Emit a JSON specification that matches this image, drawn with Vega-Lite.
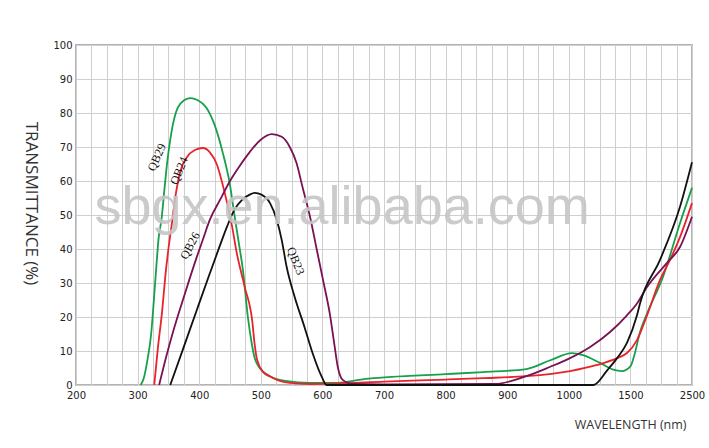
{
  "$schema": "https://vega.github.io/schema/vega-lite/v6.json",
  "width": 616,
  "height": 340,
  "autosize": "none",
  "padding": {"left": 76, "top": 45, "right": 17, "bottom": 63},
  "background": "white",
  "config": {
    "view": {"stroke": "#b3b3b3", "strokeWidth": 2},
    "axis": {
      "gridColor": "#cfcfcf",
      "gridWidth": 1,
      "gridOpacity": 1,
      "ticks": false,
      "domain": false,
      "labelFont": "DejaVu Sans",
      "labelFontSize": 10,
      "labelColor": "#222222",
      "titleFont": "Open Sans",
      "titleFontWeight": "normal",
      "titleColor": "#333333"
    }
  },
  "datasets": {
    "curves": [
      {"series": "QB29", "nm": 305, "t": 0},
      {"series": "QB29", "nm": 310, "t": 2},
      {"series": "QB29", "nm": 316, "t": 7.4},
      {"series": "QB29", "nm": 322, "t": 15},
      {"series": "QB29", "nm": 326, "t": 24},
      {"series": "QB29", "nm": 330, "t": 33.8},
      {"series": "QB29", "nm": 334, "t": 43},
      {"series": "QB29", "nm": 339, "t": 49},
      {"series": "QB29", "nm": 343, "t": 56.5},
      {"series": "QB29", "nm": 347, "t": 63.8},
      {"series": "QB29", "nm": 355, "t": 74.4},
      {"series": "QB29", "nm": 365, "t": 81.5},
      {"series": "QB29", "nm": 376, "t": 83.8},
      {"series": "QB29", "nm": 386, "t": 84.4},
      {"series": "QB29", "nm": 397, "t": 83.8},
      {"series": "QB29", "nm": 412, "t": 81.5},
      {"series": "QB29", "nm": 425, "t": 76.5},
      {"series": "QB29", "nm": 438, "t": 68.5},
      {"series": "QB29", "nm": 450, "t": 58.8},
      {"series": "QB29", "nm": 458, "t": 49},
      {"series": "QB29", "nm": 465, "t": 41},
      {"series": "QB29", "nm": 471, "t": 33.8},
      {"series": "QB29", "nm": 479, "t": 20},
      {"series": "QB29", "nm": 485, "t": 12.5},
      {"series": "QB29", "nm": 490, "t": 8},
      {"series": "QB29", "nm": 498, "t": 5},
      {"series": "QB29", "nm": 515, "t": 2.6},
      {"series": "QB29", "nm": 540, "t": 1.2},
      {"series": "QB29", "nm": 580, "t": 0.6},
      {"series": "QB29", "nm": 620, "t": 0.6},
      {"series": "QB29", "nm": 650, "t": 1.2},
      {"series": "QB29", "nm": 670, "t": 1.8},
      {"series": "QB29", "nm": 712, "t": 2.4},
      {"series": "QB29", "nm": 800, "t": 3.2},
      {"series": "QB29", "nm": 861, "t": 3.8},
      {"series": "QB29", "nm": 931, "t": 4.7},
      {"series": "QB29", "nm": 969, "t": 7.2},
      {"series": "QB29", "nm": 1025, "t": 9.4},
      {"series": "QB29", "nm": 1115, "t": 8.8},
      {"series": "QB29", "nm": 1253, "t": 6.5},
      {"series": "QB29", "nm": 1360, "t": 4.5},
      {"series": "QB29", "nm": 1430, "t": 4.1},
      {"series": "QB29", "nm": 1500, "t": 5.5},
      {"series": "QB29", "nm": 1560, "t": 8.5},
      {"series": "QB29", "nm": 1655, "t": 15.5},
      {"series": "QB29", "nm": 1770, "t": 21},
      {"series": "QB29", "nm": 2029, "t": 31.8},
      {"series": "QB29", "nm": 2305, "t": 47.6},
      {"series": "QB29", "nm": 2500, "t": 58},
      {"series": "QB24", "nm": 327, "t": 0},
      {"series": "QB24", "nm": 333, "t": 11},
      {"series": "QB24", "nm": 340, "t": 22},
      {"series": "QB24", "nm": 345, "t": 32},
      {"series": "QB24", "nm": 350, "t": 40},
      {"series": "QB24", "nm": 356, "t": 48},
      {"series": "QB24", "nm": 361, "t": 55},
      {"series": "QB24", "nm": 369, "t": 62.6},
      {"series": "QB24", "nm": 380, "t": 67},
      {"series": "QB24", "nm": 393, "t": 69.1},
      {"series": "QB24", "nm": 406, "t": 69.7},
      {"series": "QB24", "nm": 417, "t": 68.5},
      {"series": "QB24", "nm": 429, "t": 64.7},
      {"series": "QB24", "nm": 437, "t": 59.7},
      {"series": "QB24", "nm": 445, "t": 53.8},
      {"series": "QB24", "nm": 453, "t": 47},
      {"series": "QB24", "nm": 461, "t": 38.8},
      {"series": "QB24", "nm": 474, "t": 28.8},
      {"series": "QB24", "nm": 486, "t": 19},
      {"series": "QB24", "nm": 490, "t": 12},
      {"series": "QB24", "nm": 494, "t": 7.4},
      {"series": "QB24", "nm": 504, "t": 3.8},
      {"series": "QB24", "nm": 515, "t": 2.5},
      {"series": "QB24", "nm": 547, "t": 0.6},
      {"series": "QB24", "nm": 580, "t": 0.3},
      {"series": "QB24", "nm": 620, "t": 0.4},
      {"series": "QB24", "nm": 700, "t": 1},
      {"series": "QB24", "nm": 800, "t": 1.6},
      {"series": "QB24", "nm": 861, "t": 2},
      {"series": "QB24", "nm": 931, "t": 2.6},
      {"series": "QB24", "nm": 1010, "t": 4.1},
      {"series": "QB24", "nm": 1229, "t": 5.9},
      {"series": "QB24", "nm": 1392, "t": 7.9},
      {"series": "QB24", "nm": 1472, "t": 9.4},
      {"series": "QB24", "nm": 1607, "t": 13.2},
      {"series": "QB24", "nm": 1770, "t": 20.5},
      {"series": "QB24", "nm": 1981, "t": 30.9},
      {"series": "QB24", "nm": 2143, "t": 36.8},
      {"series": "QB24", "nm": 2305, "t": 43.5},
      {"series": "QB24", "nm": 2500, "t": 53.5},
      {"series": "QB26", "nm": 335, "t": 0},
      {"series": "QB26", "nm": 346, "t": 8},
      {"series": "QB26", "nm": 357, "t": 15.3},
      {"series": "QB26", "nm": 377, "t": 27},
      {"series": "QB26", "nm": 396, "t": 37.6},
      {"series": "QB26", "nm": 406, "t": 42.8},
      {"series": "QB26", "nm": 417, "t": 48.5},
      {"series": "QB26", "nm": 434, "t": 54.5},
      {"series": "QB26", "nm": 450, "t": 60},
      {"series": "QB26", "nm": 466, "t": 64.5},
      {"series": "QB26", "nm": 482, "t": 68.5},
      {"series": "QB26", "nm": 499, "t": 72},
      {"series": "QB26", "nm": 518, "t": 73.8},
      {"series": "QB26", "nm": 534, "t": 73},
      {"series": "QB26", "nm": 547, "t": 70},
      {"series": "QB26", "nm": 558, "t": 65.3},
      {"series": "QB26", "nm": 568, "t": 58},
      {"series": "QB26", "nm": 580, "t": 49.4},
      {"series": "QB26", "nm": 591, "t": 39.7},
      {"series": "QB26", "nm": 601, "t": 30.9},
      {"series": "QB26", "nm": 612, "t": 21},
      {"series": "QB26", "nm": 620, "t": 11.2},
      {"series": "QB26", "nm": 625, "t": 5.3},
      {"series": "QB26", "nm": 633, "t": 1.5},
      {"series": "QB26", "nm": 650, "t": 0.3},
      {"series": "QB26", "nm": 700, "t": 0.2},
      {"series": "QB26", "nm": 880, "t": 0.3},
      {"series": "QB26", "nm": 931, "t": 2.6},
      {"series": "QB26", "nm": 969, "t": 5.3},
      {"series": "QB26", "nm": 1010, "t": 7.9},
      {"series": "QB26", "nm": 1173, "t": 11.2},
      {"series": "QB26", "nm": 1335, "t": 15.6},
      {"series": "QB26", "nm": 1472, "t": 20.5},
      {"series": "QB26", "nm": 1607, "t": 24},
      {"series": "QB26", "nm": 1770, "t": 28.8},
      {"series": "QB26", "nm": 2094, "t": 35.9},
      {"series": "QB26", "nm": 2305, "t": 40.6},
      {"series": "QB26", "nm": 2500, "t": 49.5},
      {"series": "QB23", "nm": 353, "t": 0},
      {"series": "QB23", "nm": 374, "t": 10.7},
      {"series": "QB23", "nm": 396, "t": 22},
      {"series": "QB23", "nm": 417, "t": 32.7},
      {"series": "QB23", "nm": 434, "t": 41.2},
      {"series": "QB23", "nm": 445, "t": 46.5},
      {"series": "QB23", "nm": 457, "t": 51.5},
      {"series": "QB23", "nm": 470, "t": 54.5},
      {"series": "QB23", "nm": 482, "t": 56},
      {"series": "QB23", "nm": 490, "t": 56.5},
      {"series": "QB23", "nm": 501, "t": 56},
      {"series": "QB23", "nm": 515, "t": 53.5},
      {"series": "QB23", "nm": 526, "t": 48.5},
      {"series": "QB23", "nm": 534, "t": 42.6},
      {"series": "QB23", "nm": 542, "t": 34.7},
      {"series": "QB23", "nm": 555, "t": 25.9},
      {"series": "QB23", "nm": 571, "t": 17},
      {"series": "QB23", "nm": 584, "t": 9.4},
      {"series": "QB23", "nm": 599, "t": 2.4},
      {"series": "QB23", "nm": 607, "t": 0},
      {"series": "QB23", "nm": 1200, "t": 0},
      {"series": "QB23", "nm": 1313, "t": 4.4},
      {"series": "QB23", "nm": 1392, "t": 7.9},
      {"series": "QB23", "nm": 1472, "t": 12.4},
      {"series": "QB23", "nm": 1607, "t": 20.5},
      {"series": "QB23", "nm": 1656, "t": 24},
      {"series": "QB23", "nm": 1981, "t": 36.8},
      {"series": "QB23", "nm": 2305, "t": 52.4},
      {"series": "QB23", "nm": 2500, "t": 65.5}
    ],
    "labels": [
      {"series": "QB29", "nm": 331, "t": 67},
      {"series": "QB24", "nm": 367, "t": 63},
      {"series": "QB26", "nm": 385, "t": 41},
      {"series": "QB23", "nm": 557, "t": 36.5}
    ],
    "watermark": [
      {"series": "sbgx.en.alibaba.com", "nm": 632, "t": 47.4}
    ]
  },
  "encoding": {
    "x": {
      "field": "nm",
      "type": "quantitative",
      "scale": {"domain": [200, 1000, 1500, 2500], "range": [0, 492.8, 554.4, 616], "nice": false, "zero": false},
      "axis": {
        "grid": true,
        "title": "WAVELENGTH (nm)",
        "titleFontSize": 12.5,
        "titleAnchor": "end",
        "titleAlign": "right",
        "titleBaseline": "alphabetic",
        "titleX": 610,
        "titleY": 43,
        "values": [200, 225, 250, 275, 300, 325, 350, 375, 400, 425, 450, 475, 500, 525, 550, 575, 600, 625, 650, 675, 700, 725, 750, 775, 800, 825, 850, 875, 900, 925, 950, 975, 1000, 1125, 1250, 1375, 1500, 1750, 2000, 2250, 2500],
        "labelExpr": "indexof([200,300,400,500,600,700,800,900,1000,1500,2500], datum.value) >= 0 ? toString(datum.value) : ''",
        "labelOverlap": false,
        "labelPadding": 5,
        "labelFlush": false
      }
    },
    "y": {
      "field": "t",
      "type": "quantitative",
      "scale": {"domain": [0, 100], "nice": false, "zero": true},
      "axis": {
        "orient": "left",
        "grid": true,
        "gridColor": "#cfcfcf",
        "gridWidth": 1,
        "title": "TRANSMITTANCE  (%)",
        "titleFontSize": 17,
        "titleAngle": 90,
        "titleAlign": "center",
        "titleBaseline": "middle",
        "titleX": -46,
        "titleY": 158,
        "values": [0, 10, 20, 30, 40, 50, 60, 70, 80, 90, 100],
        "labelExpr": "toString(datum.value)",
        "labelOverlap": false,
        "labelBound": false,
        "labelPadding": 4
      }
    }
  },
  "layer": [
    {
      "data": {"name": "curves"},
      "mark": {"type": "line", "interpolate": "monotone", "strokeWidth": 1.8},
      "encoding": {
        "color": {
          "field": "series",
          "type": "nominal",
          "scale": {"domain": ["QB29", "QB24", "QB26", "QB23"], "range": ["#16a04c", "#e8232b", "#7a1152", "#111111"]},
          "legend": null
        }
      }
    },
    {
      "data": {"name": "labels"},
      "transform": [{"filter": "datum.series == 'QB29'"}],
      "mark": {"type": "text", "font": "Liberation Serif", "fontSize": 12, "angle": -66, "align": "center", "baseline": "middle", "color": "#111111"},
      "encoding": {"text": {"field": "series"}}
    },
    {
      "data": {"name": "labels"},
      "transform": [{"filter": "datum.series == 'QB24'"}],
      "mark": {"type": "text", "font": "Liberation Serif", "fontSize": 12, "angle": -68, "align": "center", "baseline": "middle", "color": "#111111"},
      "encoding": {"text": {"field": "series"}}
    },
    {
      "data": {"name": "labels"},
      "transform": [{"filter": "datum.series == 'QB26'"}],
      "mark": {"type": "text", "font": "Liberation Serif", "fontSize": 12, "angle": -62, "align": "center", "baseline": "middle", "color": "#111111"},
      "encoding": {"text": {"field": "series"}}
    },
    {
      "data": {"name": "labels"},
      "transform": [{"filter": "datum.series == 'QB23'"}],
      "mark": {"type": "text", "font": "Liberation Serif", "fontSize": 12, "angle": 68, "align": "center", "baseline": "middle", "color": "#111111"},
      "encoding": {"text": {"field": "series"}}
    },
    {
      "data": {"name": "watermark"},
      "mark": {"type": "text", "font": "Liberation Sans", "fontSize": 54, "align": "center", "baseline": "alphabetic", "color": "#c6c6c6", "opacity": 0.9},
      "encoding": {"text": {"field": "series"}}
    }
  ]
}
